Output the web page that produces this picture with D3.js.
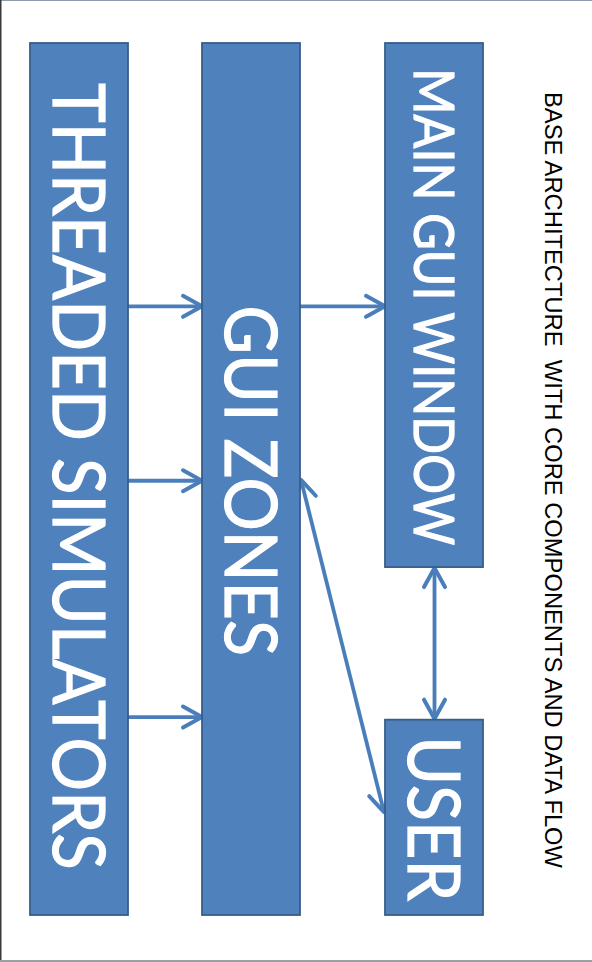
<!DOCTYPE html>
<html>
<head>
<meta charset="utf-8">
<script src="https://cdn.jsdelivr.net/npm/d3@7"></script>
<style>
  html, body { margin: 0; padding: 0; background: #fff; }
  svg { display: block; }
</style>
</head>
<body>
<div id="chart"></div>
<script>
var width = 592, height = 962;

// components (column lane, vertical span as a fraction of the flow height)
var nodeNames = ["THREADED SIMULATORS", "GUI ZONES", "MAIN GUI WINDOW", "USER"];
var nodeLane  = ["sim", "zones", "main", "main"];
var nodeStart = [0, 0, 0, 0.776];
var nodeEnd   = [1, 1, 0.601, 1];
var labelSize = [72, 72, 56, 72];
var labelFrom = [0.046, 0.301, 0.029, 0.795];
var labelTo   = [0.948, 0.703, 0.576, 0.984];

// data flow links: from, to, vertical position (fraction), two-way or not
var linkFrom = [0, 0, 0, 1, 2, 1];
var linkTo   = [1, 1, 1, 2, 3, 3];
var linkAt   = [0.302, 0.502, 0.773, 0.302, null, null];
var linkAtB  = [0.302, 0.502, 0.773, 0.302, null, 0.882];
var linkBoth = [false, false, false, false, true, true];

var title = "BASE ARCHITECTURE  WITH CORE COMPONENTS AND DATA FLOW";

var x = d3.scaleOrdinal().domain(["sim", "zones", "main"]).range([30, 202, 385]);
var boxW = 98;
var y = d3.scaleLinear().domain([0, 1]).range([43, 915]);

var svg = d3.select("#chart").append("svg")
    .attr("width", width)
    .attr("height", height);

// frame
svg.append("line").attr("x1", 0).attr("x2", width).attr("y1", 0.5).attr("y2", 0.5)
    .attr("stroke", "#8d9aab").attr("stroke-width", 1);
svg.append("line").attr("x1", 0.75).attr("x2", 0.75).attr("y1", 0).attr("y2", height)
    .attr("stroke", "#3a3a3a").attr("stroke-width", 1.5);
svg.append("line").attr("x1", 0).attr("x2", width).attr("y1", height - 1).attr("y2", height - 1)
    .attr("stroke", "#9aa0a6").attr("stroke-width", 2);

var defs = svg.append("defs");
function marker(id, orient) {
  defs.append("marker")
      .attr("id", id)
      .attr("markerUnits", "userSpaceOnUse")
      .attr("viewBox", "-24 -14 28 28")
      .attr("refX", 0).attr("refY", 0)
      .attr("markerWidth", 28).attr("markerHeight", 28)
      .attr("orient", orient)
    .append("path")
      .attr("d", "M-19,-10.5L0,0L-19,10.5")
      .attr("fill", "none")
      .attr("stroke", "#4a7ebb")
      .attr("stroke-width", 4)
      .attr("stroke-linecap", "round")
      .attr("stroke-linejoin", "round");
}
marker("head", "auto");
marker("tail", "auto-start-reverse");

var nodes = nodeNames.map(function(name, i) {
  return {
    name: name,
    x0: x(nodeLane[i]), x1: x(nodeLane[i]) + boxW,
    y0: y(nodeStart[i]), y1: y(nodeEnd[i]),
    size: labelSize[i], t0: y(labelFrom[i]), t1: y(labelTo[i])
  };
});

// links
var links = linkFrom.map(function(f, i) {
  var a = nodes[f], b = nodes[linkTo[i]];
  var p;
  if (linkAt[i] == null && linkAtB[i] == null) {
    // vertical link between stacked boxes
    var cx = (a.x0 + a.x1) / 2 + 0.5;
    p = { x1: cx, y1: a.y1 + 1, x2: cx, y2: b.y0 - 1 };
  } else if (linkAt[i] == null) {
    p = { x1: a.x1 + 1, y1: y(0.501), x2: b.x0 - 1, y2: y(linkAtB[i]) };
  } else {
    p = { x1: a.x1, y1: y(linkAt[i]), x2: b.x0, y2: y(linkAtB[i]) };
  }
  p.both = linkBoth[i];
  return p;
});

svg.selectAll(".link").data(links).enter().append("line")
    .attr("class", "link")
    .attr("x1", function(d) { return d.x1; })
    .attr("y1", function(d) { return d.y1; })
    .attr("x2", function(d) { return d.x2; })
    .attr("y2", function(d) { return d.y2; })
    .attr("stroke", "#4a7ebb")
    .attr("stroke-width", 3.8)
    .attr("marker-end", "url(#head)")
    .attr("marker-start", function(d) { return d.both ? "url(#tail)" : null; });

// boxes
svg.selectAll(".box").data(nodes).enter().append("rect")
    .attr("class", "box")
    .attr("x", function(d) { return d.x0; })
    .attr("y", function(d) { return d.y0; })
    .attr("width", function(d) { return d.x1 - d.x0; })
    .attr("height", function(d) { return d.y1 - d.y0; })
    .attr("fill", "#4f81bd")
    .attr("stroke", "#385d8a")
    .attr("stroke-width", 1.8);

// box labels, rotated to read top to bottom
svg.selectAll(".label").data(nodes).enter().append("text")
    .attr("class", "label")
    .attr("transform", function(d) {
      var base = (d.x0 + d.x1) / 2 - d.size * 0.36;
      return "translate(" + base + "," + d.t0 + ") rotate(90)";
    })
    .attr("font-family", "Lato, 'Open Sans', sans-serif")
    .attr("font-size", function(d) { return d.size; })
    .attr("fill", "#fff")
    .attr("stroke", "#fff")
    .attr("stroke-width", 1.2)
    .attr("textLength", function(d) { return d.t1 - d.t0; })
    .attr("lengthAdjust", "spacingAndGlyphs")
    .text(function(d) { return d.name; });

// title down the right side
svg.append("text")
    .attr("transform", "translate(545,92) rotate(90)")
    .attr("font-family", "'Liberation Sans', Arial, sans-serif")
    .attr("font-size", 23.5)
    .attr("fill", "#000")
    .attr("textLength", 776)
    .attr("lengthAdjust", "spacingAndGlyphs")
    .attr("xml:space", "preserve")
    .style("white-space", "pre")
    .text(title);
</script>
</body>
</html>
